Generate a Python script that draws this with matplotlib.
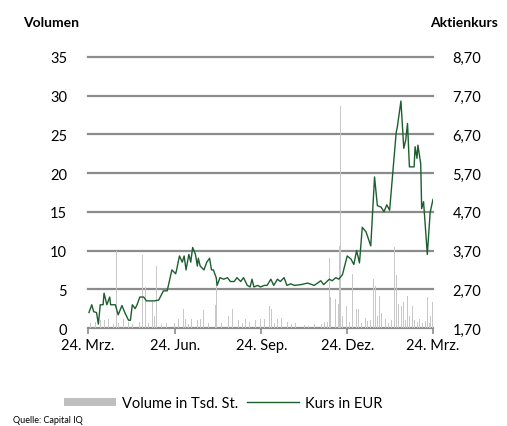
import numpy as np
import matplotlib
matplotlib.use("Agg")
import matplotlib.pyplot as plt
from matplotlib.patches import Patch
from matplotlib.lines import Line2D

plt.rcParams['font.family'] = ['Lato', 'DejaVu Sans']

# Startdatum und Tageversatz der Kurse
start = np.datetime64('2023-03-24')

kurs_tage = [1, 4, 6, 9, 11, 13, 16, 17, 20, 23, 24, 29, 32, 36, 39, 43, 45, 47, 50, 52,
             55, 59, 62, 70, 75, 80, 84, 89, 93, 94, 97, 100, 102, 104, 107, 109, 111, 114,
             116, 117, 119, 123, 126, 129, 131, 133, 136, 137, 140, 144, 148, 151, 155, 158,
             162, 165, 169, 172, 174, 176, 180, 183, 187, 190, 194, 197, 201, 204, 208, 211,
             215, 219, 226, 233, 240, 247, 250, 256, 259, 263, 266, 270, 275, 279, 282, 285,
             288, 291, 295, 300, 304, 307, 311, 314, 317, 320, 327, 328, 332, 335, 337, 339,
             341, 346, 347, 349, 350, 353, 354, 356, 360, 363, 366]
kurs_eur = [2.10, 2.30, 2.12, 2.10, 1.80, 2.30, 2.30, 2.60, 2.30, 2.50, 2.30, 2.30, 2.04, 2.28,
            2.10, 1.90, 1.90, 2.30, 2.20, 2.30, 2.50, 2.50, 2.40, 2.40, 2.42, 2.66, 2.66, 3.20,
            3.10, 3.20, 3.56, 3.40, 3.56, 3.20, 3.60, 3.40, 3.78, 3.60, 3.30, 3.50, 3.30, 3.20,
            3.40, 3.50, 3.20, 3.20, 3.00, 2.80, 3.00, 2.96, 3.00, 2.90, 2.90, 3.00, 2.90, 3.00,
            2.80, 2.76, 2.96, 2.76, 2.80, 2.76, 2.80, 2.80, 2.96, 2.80, 2.96, 2.90, 3.00, 2.80,
            2.84, 2.80, 2.82, 2.86, 2.80, 2.92, 2.82, 2.96, 2.92, 3.00, 2.96, 3.08, 3.56, 3.48,
            3.34, 3.70, 3.38, 4.30, 4.18, 3.82, 5.60, 4.86, 4.82, 4.70, 4.88, 4.74, 6.76, 6.86,
            7.56, 6.34, 6.54, 6.98, 5.86, 5.86, 6.38, 6.08, 6.42, 5.94, 4.78, 4.96, 3.60, 4.68,
            5.02]

# Handelsvolumen in Tsd. Stück
vol_tage = [3, 8, 13, 17, 22, 27, 30, 32, 35, 38, 43, 47, 52, 55, 58, 61, 64, 68, 71, 73,
            78, 83, 87, 92, 96, 101, 103, 107, 110, 116, 119, 123, 128, 135, 136, 142, 149,
            153, 157, 160, 164, 167, 171, 174, 178, 183, 187, 193, 195, 198, 201, 205, 209,
            212, 216, 220, 226, 230, 234, 240, 244, 248, 251, 254, 256, 257, 261, 263, 266,
            267, 268, 270, 274, 277, 279, 281, 285, 287, 290, 294, 297, 300, 303, 305, 307,
            309, 311, 313, 316, 319, 322, 325, 327, 329, 331, 333, 335, 337, 339, 341, 344,
            346, 348, 350, 352, 355, 358, 360, 362, 363, 365]
vol_tsd = [0.6, 0.8, 1.0, 1.0, 1.2, 0.5, 9.9, 0.6, 0.4, 1.2, 0.8, 0.5, 5.6, 0.8, 9.4, 5.3,
           0.6, 3.4, 1.6, 8.0, 0.5, 0.7, 1.2, 0.6, 1.2, 2.4, 1.2, 0.5, 1.2, 1.0, 1.2, 2.3, 0.6,
           3.0, 6.0, 0.7, 1.5, 2.5, 0.5, 1.0, 0.6, 1.1, 0.8, 0.5, 1.0, 1.1, 1.2, 2.8, 2.5, 0.6,
           1.2, 1.3, 0.4, 0.8, 0.5, 0.6, 0.3, 0.4, 0.3, 0.5, 0.4, 0.5, 0.8, 0.8, 9.1, 4.0, 17.9,
           3.7, 3.1, 10.6, 28.6, 1.5, 2.9, 0.8, 6.9, 7.0, 2.4, 2.4, 0.7, 1.3, 0.9, 1.0, 6.3,
           5.4, 1.5, 4.1, 2.0, 0.8, 1.2, 0.7, 1.0, 10.5, 6.9, 3.1, 1.2, 2.8, 3.3, 1.0, 4.1,
           1.5, 2.9, 1.0, 0.7, 0.8, 1.2, 0.6, 0.9, 4.0, 0.7, 1.5, 3.3]

tick_datum = ['2023-03-24', '2023-06-24', '2023-09-24', '2023-12-24', '2024-03-24']
tick_text = ['24. Mrz.', '24. Jun.', '24. Sep.', '24. Dez.', '24. Mrz.']

vol_ticks = [0, 5, 10, 15, 20, 25, 30, 35]
kurs_ticks = [1.70, 2.70, 3.70, 4.70, 5.70, 6.70, 7.70, 8.70]

grau = '#8c8c8c'
gruen = '#1d5e2f'

x_kurs = start + np.array(kurs_tage).astype('timedelta64[D]')
x_vol = start + np.array(vol_tage).astype('timedelta64[D]')
x_ticks = np.array(tick_datum, dtype='datetime64[D]')

fig = plt.figure(figsize=(5.07, 4.27), dpi=100)
ax = fig.add_axes([0.1736, 0.2295, 0.6804, 0.635])
ax2 = ax.twinx()

ax.bar(x_vol, vol_tsd, width=1.0, color='#c8c8c8', linewidth=0, zorder=2)
for v in vol_ticks:
    ax.axhline(v, color=grau, linewidth=1.6, zorder=1, clip_on=False)
ax2.plot(x_kurs, kurs_eur, color=gruen, linewidth=1.0, zorder=3)

ax.set_ylim(0, 35)
ax2.set_ylim(1.70, 8.70)
ax.set_xlim(start, x_ticks[-1])

ax.set_yticks(vol_ticks)
ax.set_yticklabels([str(v) for v in vol_ticks])
ax2.set_yticks(kurs_ticks)
ax2.set_yticklabels([f"{k:.2f}".replace('.', ',') for k in kurs_ticks])
ax.set_xticks(x_ticks)
ax.set_xticklabels(tick_text)

for a in (ax, ax2):
    for s in a.spines.values():
        s.set_visible(False)
ax.tick_params(axis='y', length=0, pad=15, labelsize=10.5, colors='black')
ax2.tick_params(axis='y', length=0, pad=14, labelsize=10.5, colors='black')
ax.tick_params(axis='x', length=4, width=1.2, color=grau, pad=3, labelsize=10.5)

fig.text(0.045, 0.945, 'Volumen', fontsize=10, fontweight='bold', ha='left', va='center')
fig.text(0.983, 0.945, 'Aktienkurs', fontsize=10, fontweight='bold', ha='right', va='center')

handles = [Patch(facecolor='#bfbfbf', edgecolor='none'),
           Line2D([0], [0], color=gruen, linewidth=1.0)]
fig.legend(handles, ['Volume in Tsd. St.', 'Kurs in EUR'], loc='center',
           bbox_to_anchor=(0.44, 0.054), ncol=2, frameon=False, fontsize=10.5,
           handlelength=3.6, handleheight=0.5, columnspacing=0.6, handletextpad=0.4)
fig.text(0.025, 0.004, 'Quelle: Capital IQ', fontsize=6.5, ha='left', va='bottom')

fig.savefig('out.png', dpi=100)
